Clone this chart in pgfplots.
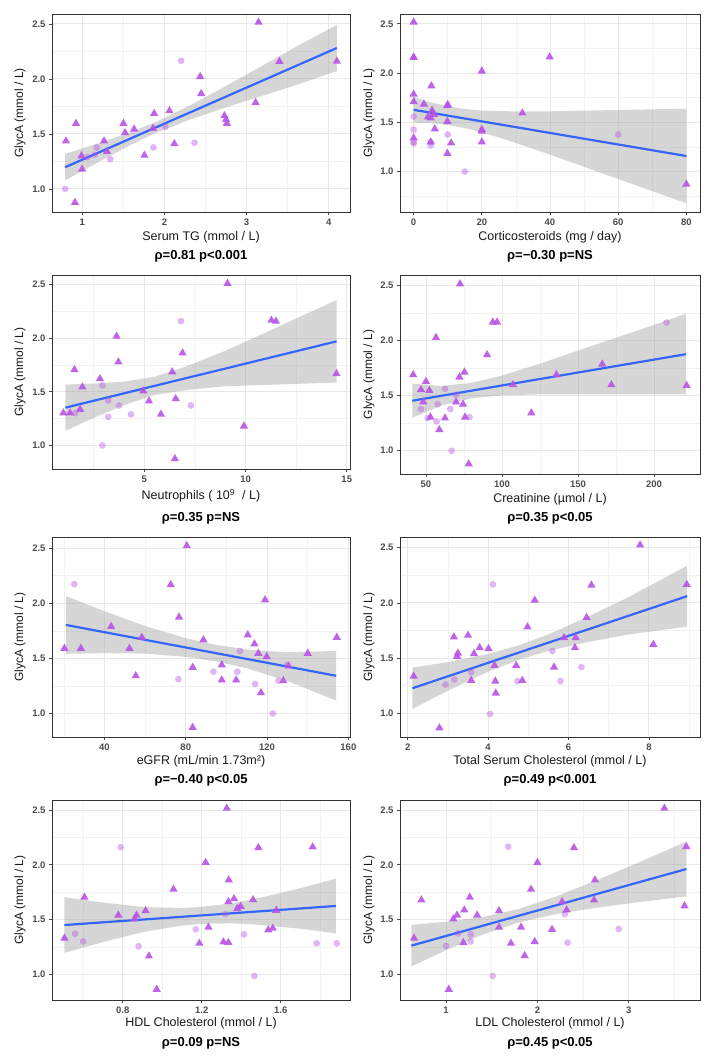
\documentclass[border=0pt]{standalone}
\usepackage{fontspec}
\setmainfont{Liberation Sans}
\usepackage{pgfplots}
\pgfplotsset{compat=1.18}
\definecolor{ptc}{RGB}{184,82,230}
\definecolor{fitblue}{RGB}{51,102,255}
\pgfplotsset{
 panel/.style={
  scale only axis, width=298pt, height=198pt,
  enlargelimits=false,
  axis line style={draw=black!80, line width=0.9pt},
  tick align=outside, tick pos=left,
  major tick length=3pt, minor tick length=0pt,
  tick style={draw=black!70, line width=0.7pt},
  grid=both,
  major grid style={draw=black!9, line width=0.9pt},
  minor grid style={draw=black!5, line width=0.5pt},
  ytick={1,1.5,2,2.5}, yticklabels={1.0,1.5,2.0,2.5},
  minor ytick={0.75,1.25,1.75,2.25},
  ticklabel style={font=\fontsize{9.5}{10}\selectfont\bfseries, text=black!70},
 },
 tri/.style={only marks, color=ptc, mark=triangle*, mark size=4.8pt, mark options={fill=ptc, draw=ptc, line width=0pt, draw opacity=0, fill opacity=0.9}},
 circ/.style={only marks, color=ptc, mark=*, mark size=3.4pt, mark options={fill=ptc, draw=ptc, line width=0pt, draw opacity=0, fill opacity=0.42}},
 band/.style={fill=black!40, fill opacity=0.4, draw=none},
 fit/.style={color=fitblue, line width=2.2pt, no marks},
}
\tikzset{
 xl/.style={font=\fontsize{12.5}{14}\selectfont, text=black!90},
 yl/.style={font=\fontsize{12}{14}\selectfont, text=black!90, rotate=90},
 rh/.style={font=\fontsize{13}{15}\selectfont\bfseries},
}
\begin{document}
\begin{tikzpicture}
\path[use as bounding box] (0,0) rectangle (716pt,1060pt);

% ---------- Panel 1: Serum TG
\begin{axis}[panel, at={(52pt,848pt)}, anchor=south west, width=298pt, height=198pt,
  xmin=0.63, xmax=4.26, ymin=0.79, ymax=2.59,
  xtick={1,2,3,4}, xticklabels={1,2,3,4}, minor xtick={1.5,2.5,3.5}]
\addplot[tri] coordinates {(3.146,2.515) (3.40,2.159) (4.10,2.16) (2.435,2.02) (2.447,1.866) (3.11,1.785) (2.06,1.71) (2.73,1.664) (2.75,1.63) (2.76,1.595) (1.874,1.685) (0.923,1.595) (1.50,1.595) (1.63,1.543) (1.52,1.51) (1.86,1.55) (0.80,1.435) (1.264,1.435) (2.12,1.41) (1.30,1.34) (0.99,1.30) (1.756,1.305) (0.996,1.178) (0.91,0.876)};
\addplot[circ] coordinates {(2.203,2.165) (2.366,1.42) (1.866,1.377) (2.01,1.565) (1.175,1.377) (1.34,1.27) (0.79,1.0) (1.06,1.29) (1.15,1.31)};
\addplot[band] coordinates {(0.79,1.317) (1.2,1.416) (1.6,1.520) (1.9,1.610) (2.3,1.755) (2.7,1.915) (3.1,2.081) (3.6,2.291) (4.10,2.491) (4.10,2.071) (3.6,1.943) (3.1,1.825) (2.7,1.729) (2.3,1.627) (1.9,1.510) (1.6,1.404) (1.2,1.246) (0.79,1.077)} -- cycle;
\addplot[fit] coordinates {(0.79,1.197) (4.10,2.281)};
\end{axis}

% ---------- Panel 2: Corticosteroids
\begin{axis}[panel, at={(400pt,848pt)}, anchor=south west, width=300pt, height=198pt,
  xmin=-4, xmax=84, ymin=0.59, ymax=2.60,
  xtick={0,20,40,60,80}, xticklabels={0,20,40,60,80}, minor xtick={10,30,50,70}]
\addplot[tri] coordinates {(0,2.517) (0,2.158) (39.9,2.164) (20,2.02) (5.2,1.87) (0,1.785) (0,1.71) (3,1.685) (9.9,1.67) (5.4,1.62) (4.2,1.554) (5,1.544) (31.9,1.594) (9.9,1.51) (6.2,1.433) (20,1.426) (20,1.41) (0,1.342) (5,1.3) (11,1.29) (20,1.3) (9.9,1.185) (80,0.872) (0,2.16) (10,1.68) (6,1.58)};
\addplot[circ] coordinates {(0,1.56) (0,1.426) (0,1.285) (5,1.265) (10,1.376) (15,1.0) (60,1.376) (0,1.30) (5,1.30)};
\addplot[band] coordinates {(0,1.757) (5,1.703) (10,1.663) (15,1.636) (20,1.620) (30,1.611) (40,1.612) (50,1.619) (60,1.625) (70,1.632) (80,1.638) (80,0.678) (70,0.802) (60,0.925) (50,1.049) (40,1.172) (30,1.291) (20,1.400) (15,1.442) (10,1.473) (5,1.493) (0,1.497)} -- cycle;
\addplot[fit] coordinates {(0,1.627) (80,1.158)};
\end{axis}

% ---------- Panel 3: Neutrophils
\begin{axis}[panel, at={(52pt,591pt)}, anchor=south west, width=298pt, height=194pt,
  xmin=0.44, xmax=15.16, ymin=0.78, ymax=2.59,
  xtick={5,10,15}, xticklabels={5,10,15}, minor xtick={2.5,7.5,12.5}]
\addplot[tri] coordinates {(9.11,2.51) (11.28,2.167) (11.5,2.158) (3.63,2.018) (6.89,1.862) (3.72,1.778) (1.55,1.707) (6.38,1.685) (14.49,1.669) (2.81,1.622) (1.94,1.545) (4.95,1.507) (5.23,1.414) (6.55,1.436) (1.83,1.336) (1.0,1.302) (1.33,1.302) (5.82,1.29) (9.92,1.18) (6.51,0.875)};
\addplot[circ] coordinates {(6.81,2.16) (2.93,1.56) (3.22,1.42) (3.75,1.373) (7.3,1.373) (3.22,1.265) (4.34,1.29) (2.93,1.0) (1.58,1.3)};
\addplot[band] coordinates {(1.1,1.567) (2.5,1.577) (4,1.596) (5.5,1.640) (7,1.732) (9,1.882) (11,2.054) (12.5,2.184) (14.5,2.356) (14.5,1.586) (12.5,1.574) (11,1.564) (9,1.552) (7,1.516) (5.5,1.470) (4,1.376) (2.5,1.257) (1.1,1.137)} -- cycle;
\addplot[fit] coordinates {(1.1,1.352) (14.5,1.971)};
\end{axis}

% ---------- Panel 4: Creatinine
\begin{axis}[panel, at={(400pt,586pt)}, anchor=south west, width=300pt, height=199pt,
  xmin=32.9, xmax=230.3, ymin=0.785, ymax=2.597,
  xtick={50,100,150,200}, xticklabels={50,100,150,200}, minor xtick={75,125,175}]
\addplot[tri] coordinates {(72.4,2.515) (94,2.167) (96.8,2.167) (56.6,2.027) (90.2,1.87) (41.6,1.688) (75.3,1.712) (72,1.667) (166,1.785) (135.8,1.688) (50,1.627) (46.7,1.552) (52.2,1.545) (107.2,1.597) (172,1.597) (221.5,1.59) (48.2,1.44) (69.8,1.44) (74.4,1.42) (52.9,1.303) (62.5,1.294) (75.7,1.303) (119.3,1.34) (58.8,1.188) (78.1,0.876)};
\addplot[circ] coordinates {(208.3,2.164) (62.5,1.56) (69.8,1.506) (57.7,1.42) (46.7,1.376) (66,1.376) (51.1,1.294) (57,1.264) (78.6,1.303) (66.9,0.997)};
\addplot[band] coordinates {(41,1.607) (60,1.587) (80,1.614) (100,1.681) (125,1.790) (150,1.909) (185,2.071) (221,2.243) (221,1.509) (185,1.511) (150,1.509) (125,1.510) (100,1.501) (80,1.474) (60,1.407) (41,1.297)} -- cycle;
\addplot[fit] coordinates {(41,1.452) (221,1.876)};
\end{axis}

% ---------- Panel 5: eGFR
\begin{axis}[panel, at={(52pt,323pt)}, anchor=south west, width=298pt, height=200pt,
  xmin=14.2, xmax=160.8, ymin=0.787, ymax=2.60,
  xtick={40,80,120,160}, xticklabels={40,80,120,160}, minor xtick={20,60,100,140}]
\addplot[tri] coordinates {(80.5,2.52) (72.6,2.167) (76.7,1.873) (119,2.03) (43.3,1.788) (58.4,1.69) (20.3,1.59) (28.4,1.59) (52.3,1.59) (88.7,1.667) (110.5,1.712) (113.8,1.63) (115.7,1.545) (119.8,1.515) (140,1.545) (154.3,1.69) (83.4,1.418) (97.7,1.44) (130.5,1.43) (55.4,1.342) (97.7,1.303) (104.8,1.303) (128,1.297) (117,1.188) (83.4,0.873)};
\addplot[circ] coordinates {(25.2,2.173) (76.4,1.312) (93.6,1.379) (105.4,1.379) (106.7,1.567) (114.1,1.267) (125.6,1.297) (122.8,1.0) (130,1.44)};
\addplot[band] coordinates {(21,2.065) (40,1.927) (60,1.793) (80,1.683) (95,1.622) (110,1.580) (130,1.555) (154,1.567) (154,1.117) (130,1.295) (110,1.410) (95,1.472) (80,1.513) (60,1.543) (40,1.547) (21,1.541)} -- cycle;
\addplot[fit] coordinates {(21,1.803) (154,1.342)};
\end{axis}

% ---------- Panel 6: Total Serum Cholesterol
\begin{axis}[panel, at={(400pt,323pt)}, anchor=south west, width=300pt, height=200pt,
  xmin=1.81, xmax=9.27, ymin=0.785, ymax=2.597,
  xtick={2,4,6,8}, xticklabels={2,4,6,8}, minor xtick={3,5,7,9}]
\addplot[tri] coordinates {(7.78,2.524) (6.57,2.16) (8.94,2.167) (5.16,2.024) (6.45,1.867) (4.98,1.782) (3.15,1.691) (3.5,1.706) (5.89,1.685) (6.18,1.685) (8.11,1.624) (3.25,1.545) (3.79,1.594) (4.01,1.585) (6.16,1.594) (3.65,1.54) (3.23,1.515) (4.16,1.433) (4.7,1.433) (5.64,1.418) (2.15,1.336) (3.58,1.297) (4.18,1.291) (4.85,1.297) (4.19,1.182) (2.79,0.867)};
\addplot[circ] coordinates {(4.12,2.167) (5.6,1.564) (6.32,1.418) (3.58,1.373) (3.16,1.306) (2.94,1.26) (4.73,1.291) (5.8,1.291) (4.05,0.994)};
\addplot[band] coordinates {(2.12,1.414) (3,1.464) (4,1.537) (4.8,1.619) (5.5,1.715) (6.5,1.877) (7.5,2.054) (8.95,2.337) (8.95,1.785) (7.5,1.714) (6.5,1.647) (5.5,1.565) (4.8,1.489) (4,1.377) (3,1.204) (2.12,1.040)} -- cycle;
\addplot[fit] coordinates {(2.12,1.227) (8.95,2.061)};
\end{axis}

% ---------- Panel 7: HDL Cholesterol
\begin{axis}[panel, at={(52pt,60pt)}, anchor=south west, width=298pt, height=200pt,
  xmin=0.442, xmax=1.951, ymin=0.766, ymax=2.591,
  xtick={0.8,1.2,1.6}, xticklabels={0.8,1.2,1.6}, minor xtick={0.6,1.0,1.4,1.8}]
\addplot[tri] coordinates {(1.327,2.515) (1.487,2.156) (1.762,2.162) (1.22,2.02) (1.337,1.861) (1.057,1.776) (0.606,1.703) (1.335,1.663) (1.364,1.69) (1.397,1.62) (1.38,1.60) (1.46,1.68) (0.916,1.58) (1.578,1.584) (0.778,1.54) (0.87,1.54) (0.86,1.505) (1.234,1.43) (1.56,1.42) (1.537,1.405) (0.505,1.33) (1.188,1.283) (1.31,1.295) (1.335,1.29) (0.933,1.167) (0.972,0.863)};
\addplot[circ] coordinates {(0.79,2.16) (0.559,1.37) (0.6,1.30) (0.88,1.256) (1.17,1.41) (1.32,1.55) (1.414,1.365) (1.782,1.283) (1.884,1.283) (1.467,0.985)};
\addplot[band] coordinates {(0.505,1.704) (0.7,1.655) (0.9,1.615) (1.1,1.605) (1.2,1.616) (1.35,1.647) (1.5,1.701) (1.7,1.786) (1.88,1.874) (1.88,1.374) (1.7,1.416) (1.5,1.451) (1.35,1.467) (1.2,1.460) (1.1,1.445) (0.9,1.385) (0.7,1.295) (0.505,1.196)} -- cycle;
\addplot[fit] coordinates {(0.505,1.450) (1.88,1.624)};
\end{axis}

% ---------- Panel 8: LDL Cholesterol
\begin{axis}[panel, at={(400pt,60pt)}, anchor=south west, width=300pt, height=200pt,
  xmin=0.496, xmax=3.78, ymin=0.766, ymax=2.591,
  xtick={1,2,3}, xticklabels={1,2,3}, minor xtick={1.5,2.5,3.5}]
\addplot[tri] coordinates {(3.39,2.515) (2.4,2.156) (3.63,2.165) (2.0,2.02) (2.63,1.861) (1.93,1.776) (0.73,1.678) (1.26,1.703) (2.27,1.663) (2.62,1.678) (3.61,1.624) (1.2,1.587) (1.58,1.58) (2.32,1.587) (1.12,1.54) (1.34,1.54) (1.08,1.505) (1.58,1.43) (1.82,1.43) (2.16,1.41) (0.65,1.33) (1.19,1.289) (1.71,1.283) (1.97,1.298) (1.86,1.17) (1.03,0.863)};
\addplot[circ] coordinates {(1.68,2.165) (2.89,1.414) (2.33,1.289) (2.3,1.55) (1.13,1.374) (1.27,1.365) (1.27,1.3) (1.0,1.26) (1.51,0.985)};
\addplot[band] coordinates {(0.62,1.452) (1.0,1.480) (1.4,1.523) (1.8,1.598) (2.2,1.709) (2.6,1.842) (3.1,2.018) (3.63,2.211) (3.63,1.711) (3.1,1.658) (2.6,1.602) (2.2,1.549) (1.8,1.474) (1.4,1.363) (1.0,1.220) (0.62,1.072)} -- cycle;
\addplot[fit] coordinates {(0.62,1.262) (3.63,1.961)};
\end{axis}

% ---------- labels
\node[yl] at (20pt,947pt) {GlycA (mmol / L)};
\node[yl] at (369pt,947pt) {GlycA (mmol / L)};
\node[yl] at (20pt,688pt) {GlycA (mmol / L)};
\node[yl] at (369pt,685.5pt) {GlycA (mmol / L)};
\node[yl] at (20pt,423pt) {GlycA (mmol / L)};
\node[yl] at (369pt,423pt) {GlycA (mmol / L)};
\node[yl] at (20pt,160pt) {GlycA (mmol / L)};
\node[yl] at (369pt,160pt) {GlycA (mmol / L)};

\node[xl] at (201pt,823pt) {Serum TG (mmol / L)};
\node[rh] at (201pt,804pt) {ρ=0.81 p<0.001};
\node[xl] at (550pt,823pt) {Corticosteroids (mg / day)};
\node[rh] at (550pt,804pt) {ρ=−0.30 p=NS};

\node[xl] at (201pt,564pt) {Neutrophils ( 10\textsuperscript{9}~ / L)};
\node[rh] at (201pt,542pt) {ρ=0.35 p=NS};
\node[xl] at (550pt,561pt) {Creatinine (µmol / L)};
\node[rh] at (550pt,542pt) {ρ=0.35 p<0.05};

\node[xl] at (201pt,299pt) {eGFR (mL/min 1.73m²)};
\node[rh] at (201pt,280pt) {ρ=−0.40 p<0.05};
\node[xl] at (550pt,299pt) {Total Serum Cholesterol (mmol / L)};
\node[rh] at (550pt,280pt) {ρ=0.49 p<0.001};

\node[xl] at (201pt,37pt) {HDL Cholesterol (mmol / L)};
\node[rh] at (201pt,17pt) {ρ=0.09 p=NS};
\node[xl] at (550pt,37pt) {LDL Cholesterol (mmol / L)};
\node[rh] at (550pt,17pt) {ρ=0.45 p<0.05};
\end{tikzpicture}
\end{document}
